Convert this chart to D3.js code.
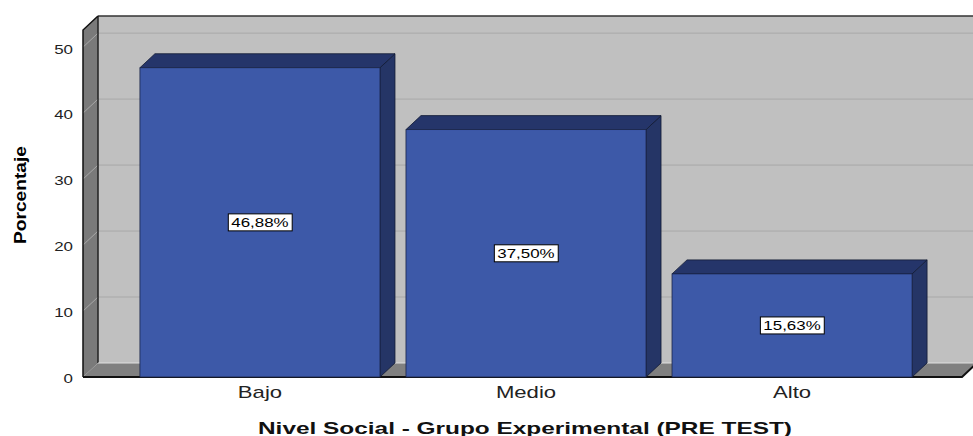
<!DOCTYPE html>
<html>
<head>
<meta charset="utf-8">
<script src="https://cdn.jsdelivr.net/npm/d3@7"></script>
<style>
  html, body { margin: 0; padding: 0; background: #fff; }
  svg { display: block; }
</style>
</head>
<body>
<div id="chart"></div>
<script>
// data
const categories = ["Bajo", "Medio", "Alto"];
const percentages = [46.88, 37.50, 15.63];
const pctLabels = ["46,88%", "37,50%", "15,63%"];
const yTicks = [0, 10, 20, 30, 40, 50];

const width = 973;
const height = 436;

// 3D offsets of the pseudo-depth
const dx = 15, dy = 14;

// the reference font is stretched sideways, so widen texts a bit
function widen(sel, k) {
  sel.each(function() {
    const w = this.getComputedTextLength();
    d3.select(this)
      .attr("textLength", w * k)
      .attr("lengthAdjust", "spacingAndGlyphs");
  });
}

const svg = d3.select("#chart")
  .append("svg")
  .attr("width", width)
  .attr("height", height);

const y = d3.scaleLinear()
  .domain([0, 52.6])
  .range([377, 30]);

const x = d3.scaleBand()
  .domain(categories)
  .range([83, 969])
  .paddingInner(0.0977)
  .paddingOuter(0.214);

const left = 83, floorRight = 962, farRight = 1000;
const yBase = y(0), yTop = y(52.6);

// back wall
svg.append("polygon")
  .attr("points", [[left + dx, yTop - dy], [farRight, yTop - dy], [farRight, yBase - dy], [left + dx, yBase - dy]].join(" "))
  .attr("fill", "#c0c0c0");

// floor
svg.append("polygon")
  .attr("points", [[left, yBase], [floorRight, yBase], [floorRight + dx, yBase - dy], [left + dx, yBase - dy]].join(" "))
  .attr("fill", "#808080");

// left wall
svg.append("polygon")
  .attr("points", [[left, yTop], [left + dx, yTop - dy], [left + dx, yBase - dy], [left, yBase]].join(" "))
  .attr("fill", "#7a7a7a");

// gridlines: slanted on the side wall, flat on the back wall
svg.append("g")
  .selectAll("polyline")
  .data(yTicks.filter(t => t > 0))
  .enter()
  .append("polyline")
  .attr("points", d => [[left, y(d)], [left + dx, y(d) - dy], [farRight, y(d) - dy]].join(" "))
  .attr("fill", "none")
  .attr("stroke", "#a8a8a8")
  .attr("stroke-width", 1);

// edges of the frame
svg.append("line")
  .attr("x1", left + dx).attr("x2", farRight)
  .attr("y1", yTop - dy).attr("y2", yTop - dy)
  .attr("stroke", "#333").attr("stroke-width", 1.5);
svg.append("line")
  .attr("x1", left + dx).attr("x2", left + dx)
  .attr("y1", yTop - dy).attr("y2", yBase - dy)
  .attr("stroke", "#222").attr("stroke-width", 1.5);
svg.append("line")
  .attr("x1", left + dx).attr("x2", farRight)
  .attr("y1", yBase - dy).attr("y2", yBase - dy)
  .attr("stroke", "#e0e0e0").attr("stroke-width", 1);
svg.append("polyline")
  .attr("points", [[left, yBase], [left, yTop], [left + dx, yTop - dy]].join(" "))
  .attr("fill", "none").attr("stroke", "#111").attr("stroke-width", 1.5);
svg.append("polyline")
  .attr("points", [[left, yBase], [floorRight, yBase], [floorRight + dx, yBase - dy]].join(" "))
  .attr("fill", "none").attr("stroke", "#111").attr("stroke-width", 2);

// bars
const bars = svg.append("g")
  .selectAll("g")
  .data(percentages.map((v, i) => ({ cat: categories[i], value: v, label: pctLabels[i] })))
  .enter()
  .append("g");

// right side face
bars.append("polygon")
  .attr("points", d => {
    const x1 = x(d.cat) + x.bandwidth();
    return [[x1, y(d.value)], [x1 + dx, y(d.value) - dy], [x1 + dx, yBase - dy], [x1, yBase]].join(" ");
  })
  .attr("fill", "#253566")
  .attr("stroke", "#111a33")
  .attr("stroke-width", 0.8);

// top face
bars.append("polygon")
  .attr("points", d => {
    const x0 = x(d.cat), x1 = x0 + x.bandwidth(), yt = y(d.value);
    return [[x0, yt], [x0 + dx, yt - dy], [x1 + dx, yt - dy], [x1, yt]].join(" ");
  })
  .attr("fill", "#25356a")
  .attr("stroke", "#111a33")
  .attr("stroke-width", 0.8);

// front face
bars.append("rect")
  .attr("x", d => x(d.cat))
  .attr("y", d => y(d.value))
  .attr("width", x.bandwidth())
  .attr("height", d => yBase - y(d.value))
  .attr("fill", "#3d59a8")
  .attr("stroke", "#1a2448")
  .attr("stroke-width", 0.8);

// value labels in white boxes
bars.each(function(d) {
  const g = d3.select(this);
  const cx = x(d.cat) + x.bandwidth() / 2;
  const cy = (y(d.value) + yBase) / 2;
  const t = g.append("text")
    .attr("x", cx)
    .attr("y", cy + 4.5)
    .attr("text-anchor", "middle")
    .attr("font-family", "'Liberation Sans', Arial, sans-serif")
    .attr("font-size", 13)
    .attr("fill", "#000")
    .text(d.label);
  widen(t, 1.3);
  const bb = t.node().getBBox();
  g.insert("rect", "text")
    .attr("x", bb.x - 3)
    .attr("y", cy - 8.5)
    .attr("width", bb.width + 6)
    .attr("height", 17)
    .attr("fill", "#fff")
    .attr("stroke", "#000")
    .attr("stroke-width", 1);
});

// y axis labels
const yAxis = svg.append("g")
  .attr("transform", `translate(${left},0)`)
  .call(d3.axisLeft(y).tickValues(yTicks).tickSize(0).tickPadding(10));
yAxis.select(".domain").remove();
yAxis.selectAll("text")
  .attr("font-family", "'Liberation Sans', Arial, sans-serif")
  .attr("font-size", 13)
  .attr("fill", "#222")
  .attr("dy", "0.45em");
widen(yAxis.selectAll("text"), 1.3);

// x axis labels
const xAxis = svg.append("g")
  .attr("transform", `translate(0,${yBase})`)
  .call(d3.axisBottom(x).tickSize(0).tickPadding(9));
xAxis.select(".domain").remove();
xAxis.selectAll("text")
  .attr("font-family", "'Liberation Sans', Arial, sans-serif")
  .attr("font-size", 17)
  .attr("fill", "#222");
widen(xAxis.selectAll("text"), 1.3);

// axis titles
svg.append("text")
  .attr("transform", "translate(26,195) rotate(-90)")
  .attr("text-anchor", "middle")
  .attr("font-family", "'Liberation Sans Narrow', 'Liberation Sans', sans-serif")
  .attr("font-weight", "bold")
  .attr("font-size", 17)
  .attr("textLength", 98)
  .attr("lengthAdjust", "spacingAndGlyphs")
  .attr("fill", "#000")
  .text("Porcentaje");

svg.append("text")
  .attr("x", 525)
  .attr("y", 434)
  .attr("text-anchor", "middle")
  .attr("font-family", "'Liberation Sans', Arial, sans-serif")
  .attr("font-weight", "bold")
  .attr("font-size", 17)
  .attr("textLength", 534)
  .attr("lengthAdjust", "spacingAndGlyphs")
  .attr("fill", "#111")
  .text("Nivel Social - Grupo Experimental (PRE TEST)");
</script>
</body>
</html>
